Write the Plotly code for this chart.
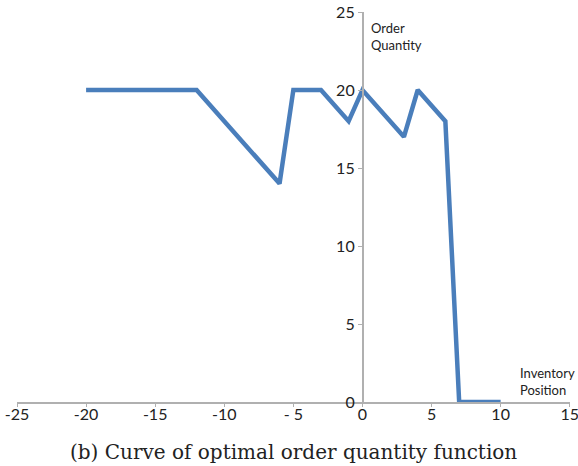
import plotly.graph_objects as go

inventory_position = [-20, -12, -6, -5, -3, -1, 0, 3, 4, 6, 7, 10]
order_quantity = [20, 20, 14, 20, 20, 18, 20, 17, 20, 18, 0, 0]
x_ticks = [-25, -20, -15, -10, -5, 0, 5, 10, 15]
x_tick_labels = ["-25", "-20", "-15", "-10", "- 5", "0", "5", "10", "15"]
y_ticks = [0, 5, 10, 15, 20, 25]

fig = go.Figure()
fig.add_trace(go.Scatter(x=inventory_position, y=order_quantity, mode="lines",
                         line=dict(color="#4a7ebb", width=4.5), showlegend=False))

axis_font = dict(family="Lato, Open Sans, sans-serif", size=16, color="#222222")
fig.update_layout(
    width=578, height=466,
    margin=dict(l=17, r=8, t=12, b=64, autoexpand=False),
    paper_bgcolor="white", plot_bgcolor="white",
    xaxis=dict(range=[-25, 15.02], tickvals=x_ticks, ticktext=x_tick_labels,
               showgrid=False, zeroline=False, showline=True, linecolor="#b0b0b0",
               linewidth=1.5, ticks="outside", ticklen=3, tickcolor="#b0b0b0",
               tickfont=axis_font, automargin=False, ticklabeloverflow="allow",
               ticklabelstandoff=-6),
    yaxis=dict(range=[0, 25], tickvals=y_ticks, showgrid=False, zeroline=False,
               showline=True, linecolor="#b0b0b0", linewidth=1.5, ticks="outside",
               ticklen=4, tickcolor="#b0b0b0", tickfont=axis_font,
               anchor="free", position=25 / 40, automargin=False),
)

label_font = dict(family="Lato, Open Sans, sans-serif", size=13, color="#222222")
fig.add_annotation(x=0, y=25, xref="x", yref="y", text="Order<br>Quantity",
                   showarrow=False, xanchor="left", yanchor="top", align="left",
                   xshift=7, yshift=-6, font=label_font)
fig.add_annotation(x=11.5, y=0, xref="x", yref="y", text="Inventory<br>Position",
                   showarrow=False, xanchor="left", yanchor="bottom", align="left",
                   xshift=-3, yshift=2, font=label_font)
fig.add_annotation(x=0.5, y=0, xref="paper", yref="paper", yshift=-50,
                   text="(b) Curve of optimal order quantity function",
                   showarrow=False, xanchor="center", yanchor="middle",
                   font=dict(family="DejaVu Serif, Liberation Serif, serif", size=20, color="#222222"))

fig.write_html("out.html", config={"displayModeBar": False},
               post_script="document.body.style.margin='0px';")
